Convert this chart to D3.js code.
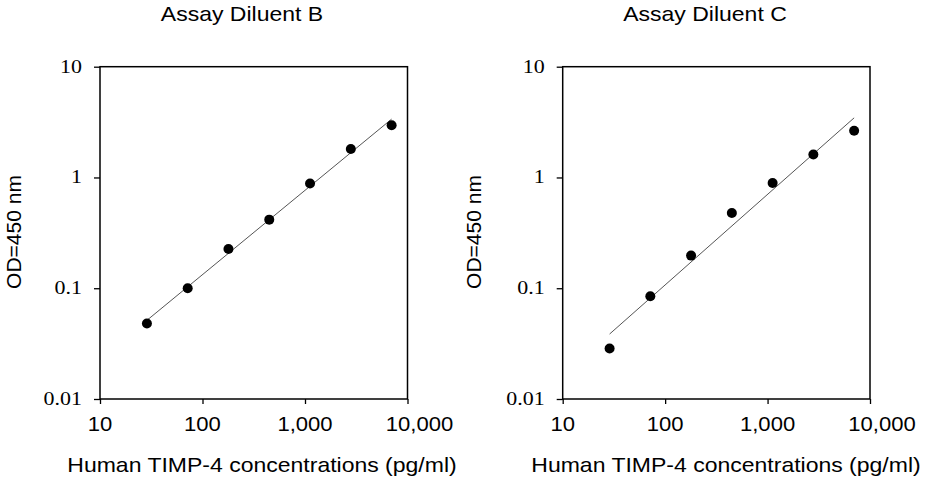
<!DOCTYPE html>
<html>
<head>
<meta charset="utf-8">
<script src="https://cdn.jsdelivr.net/npm/d3@7"></script>
<style>
  html, body { margin: 0; padding: 0; background: #fff; }
  svg { display: block; }
</style>
</head>
<body>
<svg id="chart" width="926" height="480"></svg>
<script>
// ---- data ----
const concentrations = [28.7, 71.7, 179.2, 448, 1120, 2800, 7000];
const odDiluentB = [0.048, 0.100, 0.226, 0.416, 0.883, 1.81, 2.96];
const odDiluentC = [0.0286, 0.0847, 0.197, 0.478, 0.89, 1.61, 2.64];
const panelTitles = ["Assay Diluent B", "Assay Diluent C"];
const xTickValues = [10, 100, 1000, 10000];
const xTickLabels = ["10", "100", "1,000", "10,000"];
const yTickValues = [0.01, 0.1, 1, 10];
const yTickLabels = ["0.01", "0.1", "1", "10"];
const xAxisTitle = "Human TIMP-4 concentrations (pg/ml)";
const yAxisTitle = "OD=450 nm";

const svg = d3.select("#chart");
const sans = "'Liberation Sans', Arial, sans-serif";
const serif = "'Liberation Serif', 'Times New Roman', serif";

const panels = [
  { series: odDiluentB, title: panelTitles[0], x0: 100, x1: 407.5, titleX: 242, xLabX: 262, yLabX: 21 },
  { series: odDiluentC, title: panelTitles[1], x0: 562.7, x1: 870, titleX: 705, xLabX: 726, yLabX: 481 }
];
const yTop = 66.7, yBot = 399;

function stretchedText(g, x, y, str, opts) {
  const t = g.append("text")
    .attr("transform", `translate(${x},${y}) scale(${opts.sx || 1},1)`)
    .attr("text-anchor", opts.anchor || "middle")
    .attr("font-family", opts.family)
    .attr("font-size", opts.size)
    .attr("fill", "#000")
    .text(str);
  if (opts.dy) t.attr("dy", opts.dy);
  return t;
}

function linreg(xs, ys) {
  const n = xs.length;
  const mx = d3.mean(xs), my = d3.mean(ys);
  let sxy = 0, sxx = 0;
  for (let i = 0; i < n; i++) { sxy += (xs[i] - mx) * (ys[i] - my); sxx += (xs[i] - mx) ** 2; }
  const slope = sxy / sxx;
  return { slope, intercept: my - slope * mx };
}

panels.forEach(p => {
  const g = svg.append("g");
  const x = d3.scaleLog().domain([10, 10000]).range([p.x0, p.x1]);
  const y = d3.scaleLog().domain([0.01, 10]).range([yBot, yTop]);

  // x axis
  const xAxis = d3.axisBottom(x).tickValues(xTickValues).tickSize(5).tickFormat(() => "");
  const xg = g.append("g").attr("transform", `translate(0,${yBot})`).call(xAxis);
  xg.select(".domain").remove();
  xg.selectAll(".tick line").attr("stroke", "#000").attr("stroke-width", 1.3);

  // y axis
  const yAxis = d3.axisLeft(y).tickValues(yTickValues).tickSize(6).tickFormat(() => "");
  const yg = g.append("g").attr("transform", `translate(${p.x0},0)`).call(yAxis);
  yg.select(".domain").remove();
  yg.selectAll(".tick line").attr("stroke", "#000").attr("stroke-width", 1.3);

  // frame
  g.append("rect")
    .attr("x", p.x0).attr("y", yTop)
    .attr("width", p.x1 - p.x0).attr("height", yBot - yTop)
    .attr("fill", "none").attr("stroke", "#000").attr("stroke-width", 1.5);

  // tick labels
  xTickValues.forEach((v, i) => {
    const nudge = (i === xTickValues.length - 1) ? 12 : 0;
    stretchedText(g, x(v) + nudge, 431, xTickLabels[i], { family: sans, size: 21, sx: 1.05 });
  });
  yTickValues.forEach((v, i) => {
    stretchedText(g, p.x0 - 18, y(v), yTickLabels[i], { family: serif, size: 18, sx: 1.22, anchor: "end", dy: "0.33em" });
  });

  // titles
  stretchedText(g, p.titleX, 21, p.title, { family: sans, size: 20, sx: 1.15 });
  stretchedText(g, p.xLabX, 472, xAxisTitle, { family: sans, size: 20, sx: 1.15 });
  g.append("text")
    .attr("transform", `translate(${p.yLabX},232) rotate(-90)`)
    .attr("text-anchor", "middle")
    .attr("font-family", sans)
    .attr("font-size", 21)
    .attr("fill", "#000")
    .text(yAxisTitle);

  // regression line in log-log space
  const lx = concentrations.map(Math.log10);
  const ly = p.series.map(Math.log10);
  const fit = linreg(lx, ly);
  const xmin = d3.min(concentrations), xmax = d3.max(concentrations);
  const fitPts = [xmin, xmax].map(c => [c, Math.pow(10, fit.intercept + fit.slope * Math.log10(c))]);
  g.append("path")
    .attr("d", d3.line().x(d => x(d[0])).y(d => y(d[1]))(fitPts))
    .attr("fill", "none").attr("stroke", "#555").attr("stroke-width", 1);

  // points
  g.selectAll("circle.pt").data(concentrations).join("circle")
    .attr("class", "pt")
    .attr("cx", d => x(d))
    .attr("cy", (d, i) => y(p.series[i]))
    .attr("r", 5)
    .attr("fill", "#000");
});
</script>
</body>
</html>
